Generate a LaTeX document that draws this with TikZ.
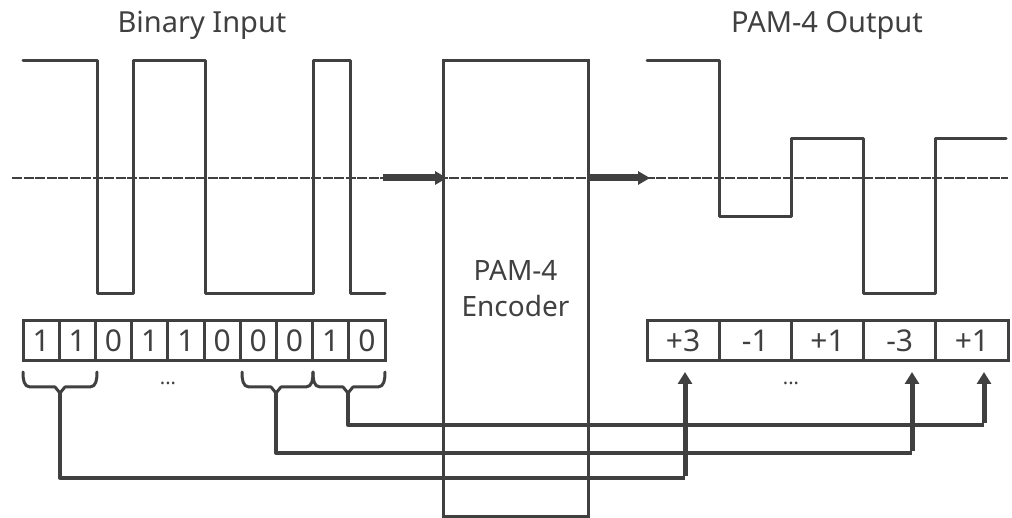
\documentclass[tikz,border=0pt]{standalone}
\usepackage{fontspec}
\setmainfont{Noto Sans}
\usetikzlibrary{arrows.meta}
\definecolor{gc}{HTML}{404040}
\begin{document}
\begin{tikzpicture}[x=1pt,y=-1pt,
  every node/.style={text=gc},
  wave/.style={draw=gc,line width=3pt,line join=round,line cap=round},
  axisline/.style={draw=gc,line width=2.6pt,dash pattern=on 10pt off 1.5pt},
  bigarrow/.style={draw=gc,line width=7pt,-{Triangle[length=12pt,width=13pt]}},
  cell/.style={draw=gc,line width=3pt,inner sep=0pt,outer sep=0pt,minimum height=40pt,font=\fontsize{30}{32}\selectfont},
  bitcell/.style={cell,minimum width=36.2pt},
  symcell/.style={cell,minimum width=72.2pt},
  brace/.style={draw=gc,line width=3pt,line join=round,line cap=round},
  conn/.style={draw=gc,line width=3.3pt,line join=round},
  uparrow/.style={draw=gc,line width=5pt,-{Triangle[length=12pt,width=14pt]}},
  title/.style={font=\fontsize{29}{32}\selectfont,anchor=base},
  dots/.style={font=\fontsize{20}{22}\selectfont}
]
\useasboundingbox (0,0) rectangle (1012,518);

% titles
\node[title] (tin) at (202,33) {Binary Input};
\node[title] (tout) at (827,33) {PAM-4 Output};

% axis line
\coordinate (axL) at (12,178);
\coordinate (axR) at (1008,178);
\draw[axisline] (axL) -- (axR);

% encoder
\node[draw=gc,line width=3pt,minimum width=145pt,minimum height=455pt,inner sep=0pt,outer sep=0pt,
      align=center,font=\fontsize{28}{36}\selectfont] (enc) at (515.5,288.5) {PAM-4\\Encoder};

% waveforms
\draw[wave] (23,61) -- (97,61) -- (97,294) -- (133,294) -- (133,61) -- (205,61) -- (205,294)
  -- (313,294) -- (313,61) -- (350,61) -- (350,294) -- (385,294);
\draw[wave] (647,61) -- (719,61) -- (719,217) -- (791,217) -- (791,139) -- (863,139)
  -- (863,294) -- (935,294) -- (935,139) -- (1006,139);

% big arrows
\coordinate (inA) at (383,178);
\coordinate (outA) at (650,178);
\draw[bigarrow] (inA) -- ([xshift=4pt]enc.west |- inA);
\draw[bigarrow] (enc.east |- outA) -- (outA);

% cells
\foreach \b [count=\i] in {1,1,0,1,1,0,0,0,1,0}
  \node[bitcell] (b\i) at ({23+36.2*(\i-0.5)},341) {\b};
\foreach \s [count=\i] in {+3,-1,+1,-3,+1}
  \node[symcell] (o\i) at ({647+72.2*(\i-0.5)},341) {\s};

% dots
\node[dots] (d1) at (168,383) {...};
\node[dots] (d2) at (791,383) {...};

% braces
\draw[brace] (23,372) to[out=-90,in=180] (30,387) -- (55,387) -- (60,393) -- (65,387) -- (90,387) to[out=0,in=-90] (97,372);
\draw[brace] (242,372) to[out=-90,in=180] (249,387) -- (271,387) -- (276,393) -- (281,387) -- (306,387) to[out=0,in=-90] (313,372);
\draw[brace] (313,372) to[out=-90,in=180] (320,387) -- (343,387) -- (348,393) -- (353,387) -- (378,387) to[out=0,in=-90] (385,372);
\coordinate (bt1) at (60,393);
\coordinate (bt2) at (276,393);
\coordinate (bt3) at (348,393);

% connectors
\coordinate (j1) at (685,478);
\coordinate (j2) at (912,453);
\coordinate (j3) at (984,425);
\coordinate (a1) at (685,372);
\coordinate (a2) at (912,372);
\coordinate (a3) at (984,372);
\draw[conn] (bt1) |- (j1);
\draw[conn] (bt2) |- (j2);
\draw[conn] (bt3) |- (j3);
\draw[uparrow] ([yshift=1.6pt]j1) -- (a1);
\draw[uparrow] ([yshift=1.6pt]j2) -- (a2);
\draw[uparrow] ([yshift=1.6pt]j3) -- (a3);
\end{tikzpicture}
\end{document}
